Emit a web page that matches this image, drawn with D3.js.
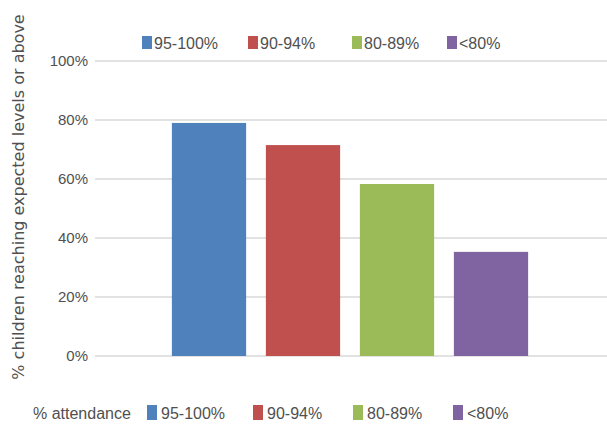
<!DOCTYPE html>
<html>
<head>
<meta charset="utf-8">
<script src="https://cdn.jsdelivr.net/npm/d3@7"></script>
<style>
  body { margin: 0; background: #fff; }
  text { font-family: "Liberation Sans", Arial, sans-serif; fill: #505050; }
</style>
</head>
<body>
<svg id="paper"></svg>
<script>
var categories = ["95-100%", "90-94%", "80-89%", "<80%"];
var values = [79, 71.5, 58.3, 35.3];
var colors = ["#4f81bd", "#c0504d", "#9bbb59", "#8064a2"];
var ticks = [0, 20, 40, 60, 80, 100];

var width = 607, height = 427;

var svg = d3.select('#paper')
    .attr('width', width)
    .attr('height', height);

var x = d3.scaleBand()
    .domain(categories)
    .range([162, 538])
    .paddingInner(0.21)
    .paddingOuter(0.105);

var y = d3.scaleLinear()
    .domain([0, 100])
    .range([356, 61]);

// gridlines
svg.append("g").selectAll("line")
    .data(ticks)
    .enter().append("line")
    .attr("x1", 95)
    .attr("x2", width)
    .attr("y1", d => y(d))
    .attr("y2", d => y(d))
    .attr("stroke", "#d9d9d9")
    .attr("stroke-width", 1.5);

// tick labels
svg.append("g").selectAll("text")
    .data(ticks)
    .enter().append("text")
    .attr("x", 88)
    .attr("y", d => y(d))
    .attr("dy", "0.35em")
    .attr("text-anchor", "end")
    .style("font-size", "15px")
    .text(d => d + "%");

// bars
svg.append("g").selectAll("rect")
    .data(values)
    .enter().append("rect")
    .attr("x", (d, i) => x(categories[i]))
    .attr("width", x.bandwidth())
    .attr("y", d => y(d))
    .attr("height", d => y(0) - y(d))
    .attr("fill", (d, i) => colors[i]);

// y axis title
svg.append("text")
    .attr("transform", "translate(24," + 197 + ") rotate(-90)")
    .attr("text-anchor", "middle")
    .style("font-family", "'DejaVu Sans', sans-serif")
    .style("font-size", "16px")
    .text("% children reaching expected levels or above");

// top legend
var topX = [142, 248, 352, 447];
var topLeg = svg.append("g").selectAll("g")
    .data(categories)
    .enter().append("g")
    .attr("transform", (d, i) => "translate(" + topX[i] + ",0)");
topLeg.append("rect")
    .attr("y", 36)
    .attr("width", 10)
    .attr("height", 13)
    .attr("fill", (d, i) => colors[i]);
topLeg.append("text")
    .attr("x", 12)
    .attr("y", 49)
    .style("font-size", "16px")
    .text(d => d);

// bottom legend
svg.append("text")
    .attr("x", 33)
    .attr("y", 419)
    .style("font-size", "16px")
    .text("% attendance");
var botX = [147, 253, 353, 453];
var botLeg = svg.append("g").selectAll("g")
    .data(categories)
    .enter().append("g")
    .attr("transform", (d, i) => "translate(" + botX[i] + ",0)");
botLeg.append("rect")
    .attr("y", 405)
    .attr("width", 10)
    .attr("height", 15)
    .attr("fill", (d, i) => colors[i]);
botLeg.append("text")
    .attr("x", 14)
    .attr("y", 419)
    .style("font-size", "16px")
    .text(d => d);
</script>
</body>
</html>
